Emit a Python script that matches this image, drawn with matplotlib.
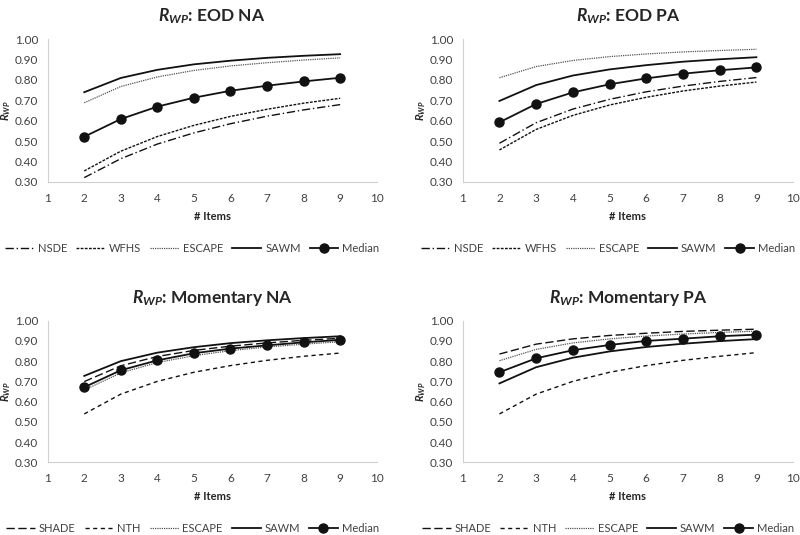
import matplotlib
matplotlib.use("Agg")
import matplotlib.pyplot as plt

plt.rcParams['font.family'] = ['Lato', 'DejaVu Sans']
plt.rcParams['mathtext.fontset'] = 'custom'
plt.rcParams['mathtext.it'] = 'Lato:italic:bold'
plt.rcParams['mathtext.rm'] = 'Lato:bold'
plt.rcParams['mathtext.bf'] = 'Lato:bold'

items = [2, 3, 4, 5, 6, 7, 8, 9]

# EOD NA
eodna_nsde   = [0.320, 0.413, 0.485, 0.540, 0.585, 0.622, 0.653, 0.679]
eodna_wfhs   = [0.353, 0.450, 0.522, 0.577, 0.621, 0.656, 0.686, 0.710]
eodna_escape = [0.688, 0.768, 0.815, 0.847, 0.869, 0.885, 0.898, 0.909]
eodna_sawm   = [0.740, 0.810, 0.850, 0.877, 0.895, 0.909, 0.919, 0.927]
eodna_median = [0.521, 0.608, 0.669, 0.713, 0.747, 0.772, 0.793, 0.811]

# EOD PA
eodpa_nsde   = [0.489, 0.590, 0.657, 0.705, 0.742, 0.770, 0.793, 0.812]
eodpa_wfhs   = [0.456, 0.557, 0.626, 0.677, 0.715, 0.746, 0.770, 0.790]
eodpa_escape = [0.811, 0.866, 0.896, 0.915, 0.928, 0.938, 0.945, 0.951]
eodpa_sawm   = [0.697, 0.775, 0.822, 0.852, 0.873, 0.890, 0.902, 0.912]
eodpa_median = [0.592, 0.682, 0.739, 0.779, 0.808, 0.831, 0.848, 0.862]

# Momentary NA
momna_shade  = [0.699, 0.777, 0.823, 0.853, 0.874, 0.890, 0.903, 0.913]
momna_nth    = [0.539, 0.637, 0.700, 0.745, 0.778, 0.804, 0.824, 0.840]
momna_escape = [0.657, 0.742, 0.793, 0.827, 0.852, 0.870, 0.884, 0.896]
momna_sawm   = [0.727, 0.800, 0.842, 0.869, 0.889, 0.903, 0.914, 0.923]
momna_median = [0.671, 0.755, 0.804, 0.839, 0.862, 0.878, 0.893, 0.905]

# Momentary PA
mompa_shade  = [0.835, 0.884, 0.910, 0.927, 0.938, 0.947, 0.953, 0.958]
mompa_nth    = [0.539, 0.637, 0.700, 0.745, 0.778, 0.804, 0.824, 0.842]
mompa_escape = [0.802, 0.858, 0.890, 0.910, 0.924, 0.934, 0.942, 0.948]
mompa_sawm   = [0.690, 0.770, 0.817, 0.848, 0.870, 0.886, 0.899, 0.909]
mompa_median = [0.745, 0.814, 0.854, 0.880, 0.900, 0.911, 0.923, 0.931]

yticks = [0.30, 0.40, 0.50, 0.60, 0.70, 0.80, 0.90, 1.00]
xticks = [1, 2, 3, 4, 5, 6, 7, 8, 9, 10]

LC = '#111111'
styles = {
    'NSDE':   dict(color=LC, lw=1.0, ls=(0, (6, 2, 1, 2))),
    'WFHS':   dict(color=LC, lw=1.0, ls=(0, (2, 1))),
    'ESCAPE': dict(color='#555555', lw=0.9, ls=(0, (1, 0.8))),
    'SAWM':   dict(color=LC, lw=1.3, ls='-'),
    'Median': dict(color=LC, lw=1.3, ls='-', marker='o', ms=6.5),
    'SHADE':  dict(color=LC, lw=1.0, ls=(0, (6, 2.5))),
    'NTH':    dict(color=LC, lw=1.0, ls=(0, (3, 2.5))),
}

panels = [
    ('EOD NA', [0.0596, 0.6604, 0.4113, 0.2661],
     [('NSDE', eodna_nsde), ('WFHS', eodna_wfhs), ('ESCAPE', eodna_escape),
      ('SAWM', eodna_sawm), ('Median', eodna_median)]),
    ('EOD PA', [0.5784, 0.6604, 0.4130, 0.2661],
     [('NSDE', eodpa_nsde), ('WFHS', eodpa_wfhs), ('ESCAPE', eodpa_escape),
      ('SAWM', eodpa_sawm), ('Median', eodpa_median)]),
    ('Momentary NA', [0.0596, 0.1359, 0.4113, 0.2647],
     [('SHADE', momna_shade), ('NTH', momna_nth), ('ESCAPE', momna_escape),
      ('SAWM', momna_sawm), ('Median', momna_median)]),
    ('Momentary PA', [0.5784, 0.1359, 0.4130, 0.2647],
     [('SHADE', mompa_shade), ('NTH', mompa_nth), ('ESCAPE', mompa_escape),
      ('SAWM', mompa_sawm), ('Median', mompa_median)]),
]

fig = plt.figure(figsize=(8.0, 5.35), dpi=100)

for title, pos, series in panels:
    ax = fig.add_axes(pos)
    for name, vals in series:
        ax.plot(items, vals, label=name, **styles[name])
    ax.set_xlim(1, 10)
    ax.set_ylim(0.30, 1.00)
    ax.set_xticks(xticks)
    ax.set_yticks(yticks)
    ax.set_yticklabels([f'{v:.2f}' for v in yticks])
    ax.tick_params(axis='both', length=0, labelsize=8.5, colors='#404040')
    ax.tick_params(axis='y', pad=7)
    ax.tick_params(axis='x', pad=8)
    for s in ('top', 'right'):
        ax.spines[s].set_visible(False)
    for s in ('left', 'bottom'):
        ax.spines[s].set_color('#d0d0d0')
        ax.spines[s].set_linewidth(0.8)
    ax.set_xlabel('# Items', fontsize=8, fontweight='bold', color='#262626', labelpad=5)
    ax.set_ylabel(r'$R_{WP}$', fontsize=8, color='#262626', labelpad=1)
    ax.set_title(r'$R_{WP}$' + ': ' + title, fontsize=12.5, fontweight='bold',
                 color='#262626', pad=13)
    leg = ax.legend(loc='center', bbox_to_anchor=(0.44, -0.468), ncol=5,
                    frameon=False, fontsize=8, handlelength=2.6,
                    columnspacing=0.8, handletextpad=0.35, borderpad=0.1)
    for t in leg.get_texts():
        t.set_color('#404040')

fig.savefig('out.png', dpi=100)
